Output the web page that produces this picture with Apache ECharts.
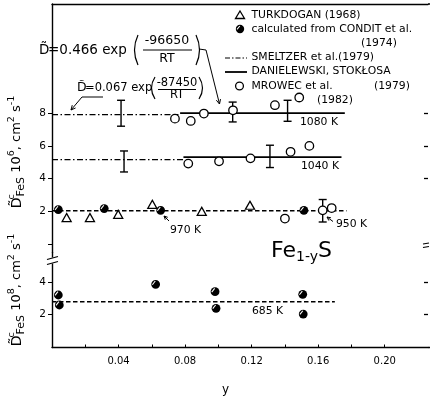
<!DOCTYPE html>
<html>
<head>
<meta charset="utf-8">
<script src="https://cdn.jsdelivr.net/npm/echarts@6/dist/echarts.min.js"></script>
<style>
  html, body { margin: 0; padding: 0; background: #fff; }
  #chart { width: 430px; height: 399px; }
</style>
</head>
<body>
<div id="chart"></div>
<script>
// ---------- data: composition y vs chemical diffusion coefficient ----------
// x axis (y in Fe1-yS)
const xTickValues = [0.02, 0.04, 0.06, 0.08, 0.10, 0.12, 0.14, 0.16, 0.18, 0.20];
const xLabelValues = [0.04, 0.08, 0.12, 0.16, 0.20];
// upper panel (units of 10^-6 cm2/s)
const upperTickValues = [0, 2, 4, 6, 8];
const upperLabelValues = [2, 4, 6, 8];
const upperRightTicks = [4, 6, 8];
// lower panel (units of 10^-8 cm2/s)
const lowerTickValues = [2, 4];
const lowerLabelValues = [2, 4];

// TURKDOGAN (1968)
const turkdogan = [[0.0088, 1.63], [0.0228, 1.63], [0.0398, 1.83], [0.0603, 2.44], [0.0900, 2.01], [0.1190, 2.38]];
// calculated from CONDIT et al. (1974)
const conditUpper = [[0.0038, 2.12], [0.0314, 2.18], [0.0653, 2.07], [0.1514, 2.07]];
const condit685 = [[0.0038, 3.20], [0.0044, 2.59], [0.0623, 3.85], [0.0980, 3.40], [0.0986, 2.39], [0.1507, 3.24], [0.1510, 2.04]];
// MROWEC et al. (1982)
const mrowec1080 = [[0.0739, 7.66], [0.0834, 7.52], [0.0913, 7.97], [0.1088, 8.17], [0.1340, 8.48], [0.1486, 8.95]];
const mrowec1040 = [[0.0819, 4.92], [0.1004, 5.06], [0.1193, 5.24], [0.1434, 5.64], [0.1547, 6.00]];
const mrowec950 = [[0.1400, 1.57], [0.1627, 2.07], [0.1681, 2.21]];
// SMELTZER et al. (1979)
const smeltzer1080 = [[0, 7.9], [0.076, 7.9]];
const smeltzer1040 = [[0, 5.16], [0.080, 5.16]];
// DANIELEWSKI, STOKLOSA (1979)
const danielewski1080 = [[0.077, 8.0], [0.176, 8.0]];
const danielewski1040 = [[0.079, 5.32], [0.174, 5.32]];
// averaged levels at 970/950 K and 685 K
const level950 = [[0, 2.05], [0.177, 2.05]];
const level685 = [[0, 2.79], [0.170, 2.79]];
// error bars: [y, low, high]
const errorBars = [[0.0415, 7.20, 8.78], [0.1086, 7.46, 8.67], [0.1416, 7.50, 8.78],
                   [0.0433, 4.41, 5.69], [0.1310, 4.68, 6.04], [0.1627, 1.36, 2.73]];

// ---------- layout ----------
const X_MAX = 0.226;
const FONT = '"DejaVu Sans", "Liberation Sans", sans-serif';
const INK = '#000';

const chart = echarts.init(document.getElementById('chart'), null, { renderer: 'canvas' });

function halfFilledDot(params, api) {
  const p = api.coord([api.value(0), api.value(1)]);
  return {
    type: 'group',
    children: [
      { type: 'circle', shape: { cx: p[0], cy: p[1], r: 4.4 }, style: { fill: INK } },
      { type: 'line', shape: { x1: p[0] - 3.3, y1: p[1] + 0.4, x2: p[0] - 0.4, y2: p[1] - 3.3 },
        style: { stroke: '#fff', lineWidth: 1.1 } }
    ]
  };
}

function errorBarItem(params, api) {
  const x = api.value(0);
  const lo = api.coord([x, api.value(1)]);
  const hi = api.coord([x, api.value(2)]);
  const w = 4;
  const st = { stroke: INK, lineWidth: 1.4 };
  return {
    type: 'group',
    children: [
      { type: 'line', shape: { x1: lo[0], y1: lo[1], x2: hi[0], y2: hi[1] }, style: st },
      { type: 'line', shape: { x1: lo[0] - w, y1: lo[1], x2: lo[0] + w, y2: lo[1] }, style: st },
      { type: 'line', shape: { x1: hi[0] - w, y1: hi[1], x2: hi[0] + w, y2: hi[1] }, style: st }
    ]
  };
}

function lineSeries(data, grid, yIdx, type, width) {
  return {
    type: 'line', data: data, xAxisIndex: grid, yAxisIndex: yIdx,
    symbol: 'none', silent: true, z: 2,
    lineStyle: { color: INK, width: width, type: type }
  };
}

function openMarks(data, symbol, size) {
  return {
    type: 'scatter', data: data, xAxisIndex: 0, yAxisIndex: 0,
    symbol: symbol, symbolSize: size, z: 5,
    itemStyle: { color: '#fff', borderColor: INK, borderWidth: 1.3, opacity: 1 }
  };
}

// ---------- decorations ----------
function txt(x, y, s, size, extra) {
  return {
    type: 'text', x: x, y: y, z: 20,
    style: Object.assign({ text: s, fill: INK, fontSize: size || 10.8, fontFamily: FONT,
      align: 'left', verticalAlign: 'middle' }, extra || {})
  };
}
function seg(x1, y1, x2, y2, w, dash) {
  return { type: 'line', z: 20, shape: { x1, y1, x2, y2 },
    style: { stroke: INK, lineWidth: w || 1, lineDash: dash || null } };
}
function arrowHead(tx, ty, fx, fy, len, ang) {
  len = len || 5; ang = ang || 0.45;
  const a = Math.atan2(ty - fy, tx - fx);
  return { type: 'polyline', z: 20,
    shape: { points: [[tx - len * Math.cos(a - ang), ty - len * Math.sin(a - ang)], [tx, ty],
                      [tx - len * Math.cos(a + ang), ty - len * Math.sin(a + ang)]] },
    style: { stroke: INK, lineWidth: 1, fill: null } };
}
function paren(x, top, bottom, left) {
  const mid = (top + bottom) / 2;
  const bulge = left ? -7 : 7;
  return { type: 'bezierCurve', z: 20,
    shape: { x1: x, y1: top, x2: x, y2: bottom, cpx1: x + bulge, cpy1: mid },
    style: { stroke: INK, lineWidth: 1.2, fill: null } };
}

const axisNameRich = {
  d: { fontSize: 14, fontFamily: FONT, lineHeight: 20, verticalAlign: 'middle' },
  c: { fontSize: 9.5, fontFamily: FONT, lineHeight: 20, verticalAlign: 'top', width: 1 },
  s: { fontSize: 11, fontFamily: FONT, lineHeight: 20, verticalAlign: 'bottom' },
  n: { fontSize: 13, fontFamily: FONT, lineHeight: 20, verticalAlign: 'middle' },
  p: { fontSize: 9.5, fontFamily: FONT, lineHeight: 20, verticalAlign: 'top' }
};
function axisName(x, y, power) {
  return { type: 'text', x: x, y: y, rotation: Math.PI / 2, z: 20,
    style: { text: '{d|D\u0303}{c|c}{s|FeS}{n| 10}{p|' + power + '}{n|, cm}{p|2}{n| s}{p|-1}',
      rich: axisNameRich, align: 'center', verticalAlign: 'middle', fill: INK } };
}

const graphics = [
  // frame lines run on to the page edge
  seg(428, 4, 430, 4, 1.4),
  seg(428, 347.5, 430, 347.5, 1.4),

  // legend
  { type: 'polygon', z: 20, shape: { points: [[240, 11], [244.5, 18.5], [235.5, 18.5]] },
    style: { fill: '#fff', stroke: INK, lineWidth: 1.3 } },
  txt(251.5, 15, 'TURKDOGAN (1968)'),
  { type: 'circle', z: 20, shape: { cx: 240, cy: 29, r: 4.2 }, style: { fill: INK } },
  { type: 'line', z: 21, shape: { x1: 237, x2: 239.8, y1: 29.3, y2: 26 }, style: { stroke: '#fff', lineWidth: 1.1 } },
  txt(251.5, 29, 'calculated from CONDIT et al.'),
  txt(361, 43, '(1974)'),
  seg(225, 58, 247, 58, 1.2, [5, 2, 1.5, 2]),
  txt(251.5, 57.5, 'SMELTZER et al.(1979)'),
  seg(225, 72, 247, 72, 1.8),
  txt(251.5, 71.5, 'DANIELEWSKI, STOKŁOSA'),
  { type: 'circle', z: 20, shape: { cx: 239.5, cy: 86, r: 3.9 }, style: { fill: '#fff', stroke: INK, lineWidth: 1.3 } },
  txt(251.5, 86, 'MROWEC et al.'),
  txt(374, 86, '(1979)'),
  txt(317, 100, '(1982)'),

  // temperature labels
  txt(300, 122.5, '1080 K'),
  txt(301, 166, '1040 K'),
  txt(170, 230, '970 K'),
  seg(169, 221, 164, 216, 1), arrowHead(164, 216, 169, 221, 4),
  txt(336, 224.5, '950 K'),
  seg(333, 221.5, 327, 217, 1), arrowHead(327, 217, 333, 221.5, 4),
  txt(252, 311, '685 K'),

  // compound
  { type: 'text', x: 271, y: 251, z: 20,
    style: { text: '{a|Fe}{b|1-y}{a|S}', align: 'left', verticalAlign: 'middle', fill: INK,
      rich: { a: { fontSize: 22, fontFamily: FONT, lineHeight: 26, verticalAlign: 'middle' },
              b: { fontSize: 14, fontFamily: FONT, lineHeight: 24, verticalAlign: 'bottom' } } } },

  // Arrhenius expression, 1080 K level
  txt(39, 50, 'D\u0303', 13.5),
  txt(48, 50, '=0.466 exp', 13.5),
  paren(138, 35, 65, true),
  txt(167, 41, '-96650', 12.5, { align: 'center' }),
  seg(143, 50, 192, 50, 1),
  txt(167, 58.5, 'RT', 12.5, { align: 'center' }),
  paren(196, 35, 65, false),
  { type: 'polyline', z: 20, shape: { points: [[199, 49], [206, 50], [219.5, 104]] },
    style: { stroke: INK, lineWidth: 1, fill: null } },
  arrowHead(219.5, 104, 206, 50, 5),

  // Arrhenius expression, Smeltzer level
  txt(77, 88, 'D\u0303', 12.5),
  txt(85, 88, '=0.067 exp', 11.5),
  paren(155, 77, 99, true),
  txt(177, 83, '-87450', 11.5, { align: 'center' }),
  seg(158, 89.5, 196, 89.5, 1),
  txt(177, 95, 'RT', 11.5, { align: 'center' }),
  paren(199, 77, 99, false),
  { type: 'polyline', z: 20, shape: { points: [[103, 97], [82, 97], [71, 110]] },
    style: { stroke: INK, lineWidth: 1, fill: null } },
  arrowHead(71, 110, 82, 97, 5),

  // axis break marks
  { type: 'rect', z: 19, shape: { x: 50, y: 257.5, width: 5, height: 6 }, style: { fill: '#fff' } },
  seg(47, 259.5, 58, 256.5, 1.2),
  seg(47, 264.5, 58, 261.5, 1.2),
  seg(423, 244, 429, 243, 1.2),
  seg(423, 247.5, 429, 246.5, 1.2),

  // axis titles
  axisName(17, 152, '6'),
  axisName(17, 290, '8'),
  txt(222, 390, 'y', 12)
];

const axisLineStyle = { show: true, onZero: false, lineStyle: { color: INK, width: 1.4 } };

const option = {
  animation: false,
  backgroundColor: '#fff',
  textStyle: { fontFamily: FONT, color: INK },
  grid: [
    { left: 52, top: 4, width: 376, height: 248.5 },
    { left: 52, top: 252.5, width: 376, height: 95 }
  ],
  xAxis: [
    { type: 'value', gridIndex: 0, position: 'top', min: 0, max: X_MAX,
      axisLine: axisLineStyle,
      axisTick: { show: false }, axisLabel: { show: false }, splitLine: { show: false } },
    { type: 'value', gridIndex: 1, position: 'bottom', min: 0, max: X_MAX, interval: 0.02,
      axisLine: axisLineStyle,
      axisTick: { show: true, inside: true, length: 3, customValues: xTickValues, lineStyle: { color: INK, width: 1 } },
      axisLabel: { show: true, customValues: xLabelValues, margin: 9, color: INK, fontSize: 10, fontFamily: FONT,
        formatter: v => v.toFixed(2) },
      splitLine: { show: false } }
  ],
  yAxis: [
    { type: 'value', gridIndex: 0, position: 'left', min: -0.5, max: 14.65,
      axisLine: axisLineStyle,
      axisTick: { show: true, inside: false, length: 4, customValues: upperTickValues, lineStyle: { color: INK, width: 1 } },
      axisLabel: { show: true, customValues: upperLabelValues, margin: 6, color: INK, fontSize: 10.5, fontFamily: FONT },
      splitLine: { show: false } },
    { type: 'value', gridIndex: 0, position: 'right', min: -0.5, max: 14.65,
      axisLine: { show: false, onZero: false },
      axisTick: { show: true, inside: true, length: 4, customValues: upperRightTicks, lineStyle: { color: INK, width: 1.3 } },
      axisLabel: { show: false }, splitLine: { show: false } },
    { type: 'value', gridIndex: 1, position: 'left', min: 0, max: 5.79,
      axisLine: axisLineStyle,
      axisTick: { show: true, inside: false, length: 4, customValues: lowerTickValues, lineStyle: { color: INK, width: 1 } },
      axisLabel: { show: true, customValues: lowerLabelValues, margin: 6, color: INK, fontSize: 10.5, fontFamily: FONT },
      splitLine: { show: false } },
    { type: 'value', gridIndex: 1, position: 'right', min: 0, max: 5.79,
      axisLine: { show: false, onZero: false },
      axisTick: { show: true, inside: true, length: 4, customValues: lowerTickValues, lineStyle: { color: INK, width: 1.3 } },
      axisLabel: { show: false }, splitLine: { show: false } }
  ],
  series: [
    lineSeries(smeltzer1080, 0, 0, [6, 2.5, 1.5, 2.5], 1.2),
    lineSeries(smeltzer1040, 0, 0, [6, 2.5, 1.5, 2.5], 1.2),
    lineSeries(danielewski1080, 0, 0, 'solid', 1.8),
    lineSeries(danielewski1040, 0, 0, 'solid', 1.8),
    lineSeries(level950, 0, 0, [4.5, 2.5], 1.5),
    lineSeries(level685, 1, 2, [4.5, 2.5], 1.5),
    { type: 'custom', xAxisIndex: 0, yAxisIndex: 0, data: errorBars, renderItem: errorBarItem,
      encode: { x: 0, y: [1, 2] }, z: 3, silent: true },
    openMarks(turkdogan, 'triangle', [9, 8]),
    openMarks(mrowec1080, 'circle', 8.5),
    openMarks(mrowec1040, 'circle', 8.5),
    openMarks(mrowec950, 'circle', 8.5),
    { type: 'custom', xAxisIndex: 0, yAxisIndex: 0, data: conditUpper, renderItem: halfFilledDot,
      encode: { x: 0, y: 1 }, z: 6 },
    { type: 'custom', xAxisIndex: 1, yAxisIndex: 2, data: condit685, renderItem: halfFilledDot,
      encode: { x: 0, y: 1 }, z: 6 }
  ],
  graphic: graphics
};

chart.setOption(option);
</script>
</body>
</html>
